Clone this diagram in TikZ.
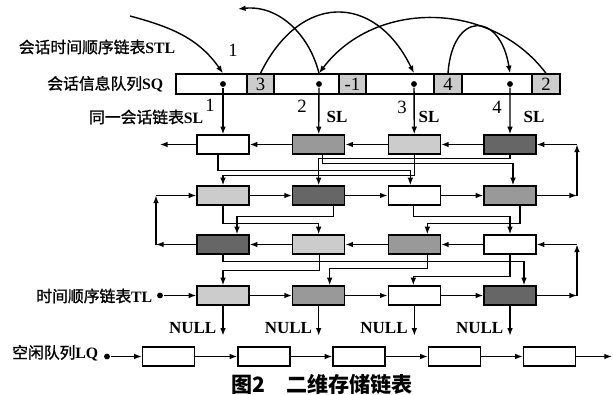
\documentclass[tikz,border=0pt]{standalone}
\usepackage{fontspec}
\setmainfont{Liberation Serif}
\newfontfamily\cjk{Noto Sans CJK SC}
\newfontfamily\cjkgruby[FakeBold=1.2]{Noto Sans CJK SC}
\usepackage{xcolor}
\usepackage{tikz}
\usetikzlibrary{arrows.meta,calc}
\definecolor{jasny}{gray}{0.8}
\definecolor{sredni}{gray}{0.6}
\definecolor{ciemny}{gray}{0.4}
\newcommand{\zh}[1]{{\cjkgruby #1}}

\begin{document}
\begin{tikzpicture}[x=0.03cm, y=-0.03cm, line width=1.2pt,
		>={Latex[length=6.5pt,width=4.8pt]},
		blok/.style={draw, line width=1.2pt, minimum width=1.56cm, minimum height=0.57cm, inner sep=0pt},
		komorka/.style={draw, line width=1.2pt, minimum height=0.6cm, inner sep=0pt, font=\fontsize{16}{18}\selectfont},
		kropka/.style={circle, fill, inner sep=0pt, minimum size=5pt},
		opis/.style={inner sep=0pt, font=\fontsize{13.5}{16}\selectfont},
		liczba/.style={inner sep=0pt, font=\fontsize{16}{18}\selectfont},
		nullek/.style={inner sep=0pt, font=\fontsize{14.5}{16}\selectfont\bfseries},
		podpis/.style={inner sep=0pt, font=\fontsize{18}{20}\selectfont\bfseries}]
	\useasboundingbox (0,0) rectangle (613,395);

	% Kolejka SQ
	\foreach \xa/\xb/\xc/\nast [count=\i] in {176/247/274/3, 274/339/366/-1, 366/434/462/4, 462/532/560/2} {
		\node[komorka, fill=white, minimum width={(\xb-\xa)*0.03cm}] (s\i) at ({(\xa+\xb)/2},84) {};
		\node[komorka, fill=jasny, minimum width={(\xc-\xb)*0.03cm}] (p\i) at ({(\xb+\xc)/2},84) {\nast};
	}
	\foreach \x [count=\i] in {223,319,414,510}
		\node[kropka] (d\i) at (\x,84) {};

	% Wiersze blokow
	\foreach \k [count=\i] in {white,sredni,jasny,ciemny}
		\node[blok, fill=\k] (b1\i) at ({127.33+95.67*\i},144.5) {};
	\foreach \k [count=\i] in {jasny,ciemny,white,sredni}
		\node[blok, fill=\k] (b2\i) at ({127.33+95.67*\i},195.5) {};
	\foreach \k [count=\i] in {ciemny,jasny,sredni,white}
		\node[blok, fill=\k] (b3\i) at ({127.33+95.67*\i},244.5) {};
	\foreach \k [count=\i] in {jasny,sredni,white,ciemny}
		\node[blok, fill=\k] (b4\i) at ({127.33+95.67*\i},295.5) {};

	% Opisy
	\node[opis, anchor=east] (stl) at (176,47) {\zh{会话时间顺序链表}\textbf{STL}};
	\node[opis, anchor=east] (sq) at (164,84) {\zh{会话信息队列}\textbf{SQ}};
	\node[opis, anchor=east] (sl) at (204,117) {\zh{同一会话链表}\textbf{SL}};
	\node[opis, anchor=east] (tl) at (153,296) {\zh{时间顺序链表}\textbf{TL}};
	\node[opis, anchor=east] (lq) at (99,353) {\zh{空闲队列}\textbf{LQ}};
	\node[liczba] (nr0) at (233,50) {1};
	\node[liczba] (nr1) at (210,105) {1};
	\node[liczba] (nr2) at (302,106) {2};
	\node[liczba] (nr3) at (402,107) {3};
	\node[liczba] (nr4) at (497,107) {4};
	\node[nullek, font=\fontsize{14.5}{16}\selectfont\bfseries] (sl2) at (337,117) {SL};
	\node[nullek, font=\fontsize{14.5}{16}\selectfont\bfseries] (sl3) at (429,117) {SL};
	\node[nullek, font=\fontsize{14.5}{16}\selectfont\bfseries] (sl4) at (534,117) {SL};

	% Lancuch STL
	\coordinate (stl-start) at (130,16);
	\coordinate (wstecz) at (238,9);
	\draw[->] (stl-start) to[out=-15,in=125] (d1 |- s1.north);
	\draw[->] (p1.north) to[out=64,in=116,looseness=1.5] (d3 |- s3.north);
	\draw[->] (p3.north) to[out=86,in=99,looseness=2.6] (d4 |- s4.north);
	\draw[->] (p4.north) to[out=127,in=53,looseness=1.04] (d2 |- s2.north);
	\draw[->] (d2 |- s2.north) to[out=104,in=6] (wstecz);

	% SQ -> pierwszy wiersz
	\foreach \i in {1,...,4}
		\draw[->] (d\i) -- (b1\i);

	% Strzalki poziome
	\foreach \i/\j in {4/3,3/2,2/1} {
		\draw[->] (b1\i) -- (b1\j);
		\draw[->] (b3\i) -- (b3\j);
	}
	\foreach \i/\j in {1/2,2/3,3/4} {
		\draw[->] (b2\i) -- (b2\j);
		\draw[->] (b4\i) -- (b4\j);
	}
	\coordinate (l1) at (160,144.5);
	\coordinate (l2) at (156,195.5);
	\coordinate (l3) at (156,244.5);
	\coordinate (r1) at (577,144.5);
	\coordinate (r2) at (577,195.5);
	\coordinate (r3) at (577,244.5);
	\coordinate (r4) at (577,295.5);
	\draw[->] (b11) -- (l1);
	\draw[->] (b24) -- (r2);
	\draw[->] (r2) -- (r1);
	\draw[->] (r1) -- (b14);
	\draw[->] (b31) -- (l3);
	\draw[->] (l3) -- (l2);
	\draw[->] (l2) -- (b21);
	\draw[->] (b44) -- (r4);
	\draw[->] (r4) -- (r3);
	\draw[->] (r3) -- (b34);

	% Polaczenia SL miedzy wierszami
	\foreach \zr/\sa/\hh/\cel/\sb in {b11/-5/16/b23/-4, b12/4/9/b24/3, b13/0/21/b21/0, b14/0/4/b22/0,
			b21/0/18/b32/0, b22/15/11/b31/14, b23/-1/11/b34/0, b24/10/18/b33/13,
			b31/0/7/b44/14, b32/1/16/b41/0, b33/13/14/b42/11, b34/0/22/b43/-1}
		\draw[->] ($(\zr.south)+(\sa,0)$) -- ++(0,\hh) -| ($(\cel.north)+(\sb,0)$);

	% Lista TL i NULL
	\node[kropka] (tl-start) at (160,295.5) {};
	\draw[->] (tl-start) -- (b41);
	\foreach \i in {1,...,4} {
		\coordinate (n\i) at ($(b4\i.south)+(0,30)$);
		\draw[->] (b4\i) -- (n\i);
		\node[nullek, anchor=east] (null\i) at ($(b4\i.south)+(-6,22)$) {NULL};
	}

	% Kolejka wolnych LQ
	\node[kropka] (lq-start) at (107,356.5) {};
	\foreach \x [count=\i] in {168.5,264,359,454.5,549.5}
		\node[blok, fill=white] (w\i) at (\x,356.5) {};
	\coordinate (lq-end) at (612,356.5);
	\draw[->] (lq-start) -- (w1);
	\foreach \i/\j in {1/2,2/3,3/4,4/5}
		\draw[->] (w\i) -- (w\j);
	\draw[->] (w5) -- (lq-end);

	% Podpis
	\node[podpis] (rys) at (322,384) {{\cjk 图2\quad 二维存储链表}};
\end{tikzpicture}
\end{document}
